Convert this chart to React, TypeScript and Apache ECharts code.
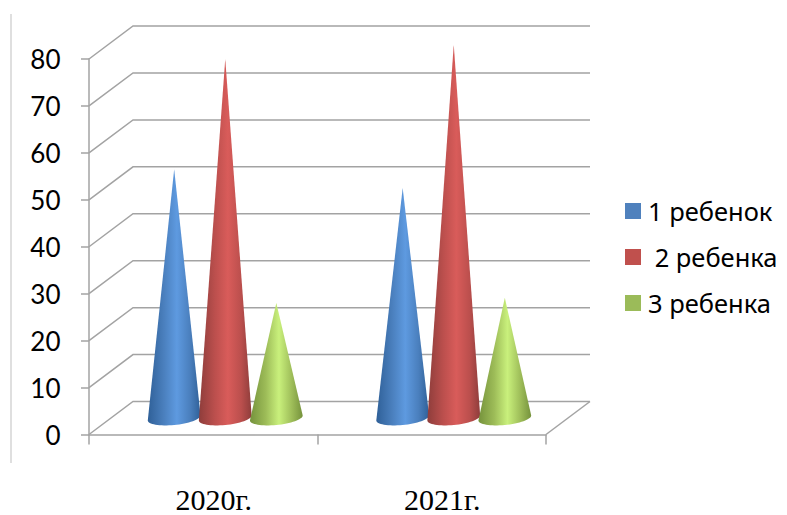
import React, { useEffect, useRef } from "react";
import * as echarts from "echarts";

const categories = ["2020г.", "2021г."];
const seriesNames = ["1 ребенок", " 2 ребенка", "3 ребенка"];
const oneChild = [53, 49];
const twoChildren = [76.5, 79.5];
const threeChildren = [24.5, 25.6];
const yTicks = [0, 10, 20, 30, 40, 50, 60, 70, 80];

const flatColors = ["#4f81bd", "#c0504d", "#9bbb59"];
const edgeColors = ["#2f6098", "#8e3d3b", "#75923c"];
const midColors = ["#4a7fbd", "#bb4f4d", "#9dbc58"];
const lightColors = ["#5e9ae0", "#d95c5a", "#c9f07c"];

const DX = 44;
const DY = 33;

function coneSeries(name: string, values: number[], idx: number) {
  return {
    type: "custom",
    name,
    coordinateSystem: "cartesian2d",
    clip: false,
    z: 3 + idx,
    itemStyle: { color: flatColors[idx] },
    data: values.map((v, i) => [i, v]),
    encode: { x: 0, y: 1 },
    renderItem(_p: any, api: any) {
      const cat = api.value(0);
      const val = api.value(1);
      const band = api.size([1, 0])[0];
      const top = api.coord([cat, val]);
      const base = api.coord([cat, 0]);
      const cx = base[0] + DX / 2 + (idx - 1) * band * 0.2235;
      const cy = base[1] - DY / 2;
      const r = band * 0.1155;
      const pts: number[][] = [[cx, top[1] - DY / 2]];
      const n = 32;
      for (let k = n; k >= 0; k--) {
        const t = (k / n) * Math.PI;
        pts.push([cx - r * Math.cos(t), cy + 2.5 * Math.cos(t) + 7 * Math.sin(t)]);
      }
      return {
        type: "polygon",
        shape: { points: pts },
        style: {
          fill: new echarts.graphic.LinearGradient(0, 0, 1, 0, [
            { offset: 0, color: edgeColors[idx] },
            { offset: 0.3, color: midColors[idx] },
            { offset: 0.55, color: lightColors[idx] },
            { offset: 0.8, color: midColors[idx] },
            { offset: 1, color: edgeColors[idx] },
          ]),
        },
      };
    },
  };
}

const wallSeries = {
  type: "custom",
  name: "wall",
  coordinateSystem: "cartesian2d",
  clip: false,
  silent: true,
  z: 1,
  data: yTicks.map((v) => [0, v]),
  encode: { x: 0, y: 1 },
  renderItem(params: any, api: any) {
    const p = api.coord([0, api.value(1)]);
    const x0 = params.coordSys.x;
    const x1 = x0 + params.coordSys.width;
    const y = p[1];
    const stroke = { stroke: "#a3a3a3", lineWidth: 1.5, fill: "none" };
    const children: any[] = [
      {
        type: "polyline",
        shape: { points: [[x0, y], [x0 + DX, y - DY], [x1 + DX, y - DY]] },
        style: stroke,
      },
    ];
    if (api.value(1) === 0) {
      children.push({
        type: "polyline",
        shape: { points: [[x1, y], [x1 + DX, y - DY]] },
        style: stroke,
      });
    }
    return { type: "group", children };
  },
};

export default function App() {
  const ref = useRef<HTMLDivElement>(null);
  useEffect(() => {
    document.body.style.margin = "0";
    const chart = echarts.init(ref.current!, undefined, { renderer: "svg" });
    chart.setOption({
      animation: false,
      backgroundColor: "#ffffff",
      grid: { left: 89, right: 241, top: 59, bottom: 80.5, outerBoundsMode: "none" },
      legend: {
        orient: "vertical",
        left: 625,
        top: 198,
        padding: 0,
        itemWidth: 16,
        itemHeight: 16,
        itemGap: 20,
        icon: "rect",
        data: seriesNames,
        textStyle: {
          fontFamily: "Noto Sans",
          fontSize: 25.5,
          color: "#000",
          padding: [0, 0, 0, 2],
        },
      },
      xAxis: {
        type: "category",
        data: categories,
        axisLine: { lineStyle: { color: "#a3a3a3", width: 1.5 } },
        axisTick: { show: true, length: 10, lineStyle: { color: "#a3a3a3", width: 1.5 } },
        axisLabel: {
          margin: 53,
          fontFamily: "Liberation Serif",
          fontSize: 30,
          lineHeight: 24,
          color: "#000",
          padding: [0, 0, 0, 21],
        },
      },
      yAxis: {
        type: "value",
        min: 0,
        max: 80,
        interval: 10,
        splitLine: { show: false },
        axisLine: { show: true, lineStyle: { color: "#a3a3a3", width: 1.5 } },
        axisTick: { show: true, length: 8, lineStyle: { color: "#a3a3a3", width: 1.5 } },
        axisLabel: { margin: 28.5, fontFamily: "Lato", fontSize: 26, color: "#000" },
      },
      graphic: [
        {
          type: "line",
          shape: { x1: 11, y1: 14, x2: 11, y2: 463 },
          style: { stroke: "#d4d4d4", lineWidth: 1.5 },
        },
      ],
      series: [
        wallSeries,
        coneSeries(seriesNames[0], oneChild, 0),
        coneSeries(seriesNames[1], twoChildren, 1),
        coneSeries(seriesNames[2], threeChildren, 2),
      ],
    });
    return () => chart.dispose();
  }, []);
  return <div ref={ref} style={{ width: 787, height: 515 }} />;
}
